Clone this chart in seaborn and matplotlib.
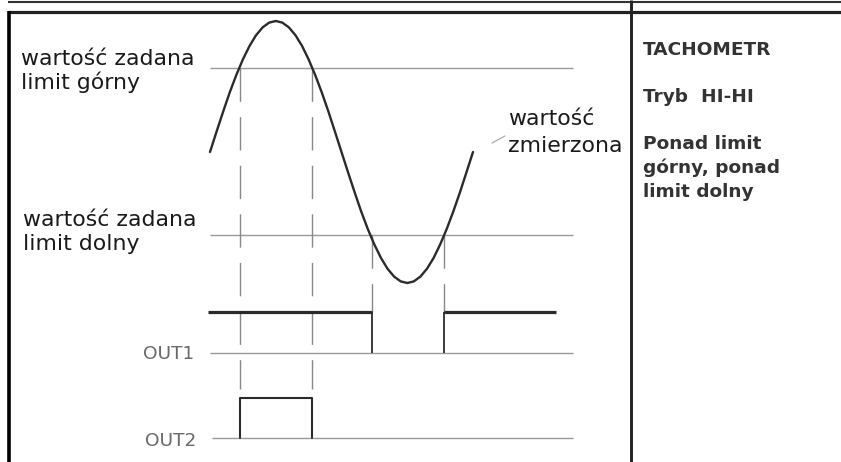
import matplotlib
matplotlib.use("Agg")
import matplotlib.pyplot as plt
import seaborn as sns

curve_x = [210, 216.6, 223.2, 229.7, 236.3, 242.9, 249.5, 256.0, 262.6, 269.2,
           275.8, 282.3, 288.9, 295.5, 302.1, 308.6, 315.2, 321.8, 328.4, 334.9,
           341.5, 348.1, 354.7, 361.2, 367.8, 374.4, 381.0, 387.5, 394.1, 400.7,
           407.3, 413.8, 420.4, 427.0, 433.6, 440.1, 446.7, 453.3, 459.9, 466.4, 473]
curve_y = [152, 131.5, 111.5, 92.5, 75, 59.4, 46, 35.3, 27.4, 22.6,
           21, 22.6, 27.4, 35.3, 46, 59.4, 75, 92.5, 111.5, 131.5,
           152, 172.5, 192.5, 211.5, 229, 244.6, 258, 268.7, 276.6, 281.4,
           283, 281.4, 276.6, 268.7, 258, 244.6, 229, 211.5, 192.5, 172.5, 152]

# set points
limit_hi = 68
limit_lo = 235
limit_span = [210, 573]

# switching instants
cross_hi = [240, 312]
cross_lo = [372, 444]

# outputs: baseline / active level
out1_base, out1_high = 353, 312
out2_base, out2_high = 438, 398
out1_span = [208, 556]
out2_span = [212, 573]

sns.set_style("white")
plt.rcParams['font.family'] = ['DejaVu Sans']
plt.rcParams['lines.scale_dashes'] = False

fig = plt.figure(figsize=(8.41, 4.62), dpi=100)
ax = fig.add_axes([0, 0, 1, 1])
ax.set_xlim(0, 841)
ax.set_ylim(462, 0)
ax.axis('off')

# frame
ax.plot([8, 841], [2, 2], color='#333333', lw=1.5, solid_capstyle='butt')
ax.plot([8, 841], [12, 12], color='#222222', lw=2.3, solid_capstyle='butt')
ax.plot([9, 9], [11, 462], color='black', lw=2.6, solid_capstyle='butt')
ax.plot([631, 631], [0, 462], color='#222222', lw=2.1, solid_capstyle='butt')

# limit lines and output baselines
grey = '#999999'
ax.hlines([limit_hi, limit_lo], *limit_span, color=grey, lw=1.0)
ax.hlines(out1_base, 210, limit_span[1], color=grey, lw=1.0)
ax.hlines(out2_base, out2_span[0], out2_span[1], color=grey, lw=1.0)

# dashed projections
dash = (0, (24, 11))
ax.vlines(cross_hi, limit_hi, out2_high - 9, color='#888888', lw=1.0, linestyle=dash)
ax.vlines(cross_lo, limit_lo, out1_high, color='#888888', lw=1.0, linestyle=dash)

# measured value
sns.lineplot(x=curve_x, y=curve_y, sort=False, estimator=None, color='#2b2b2b', lw=1.7, ax=ax)

# OUT1: on outside the lower crossings (low part lies on the baseline)
ax.vlines(cross_lo, out1_high, out1_base, color='#2b2b2b', lw=1.3)
ax.hlines(out1_high, out1_span[0], cross_lo[0], color='#2b2b2b', lw=2.3)
ax.hlines(out1_high, cross_lo[1], out1_span[1], color='#2b2b2b', lw=2.3)

# OUT2: on between the upper crossings
s2x = [cross_hi[0], cross_hi[0], cross_hi[1], cross_hi[1]]
s2y = [out2_base, out2_high, out2_high, out2_base]
sns.lineplot(x=s2x, y=s2y, sort=False, estimator=None, color='#2b2b2b', lw=1.5, ax=ax)

# labels
lab = dict(fontsize=15.8, color='#1a1a1a', va='baseline', ha='left')
ax.text(21, 65, 'wartość zadana', **lab)
ax.text(21, 89, 'limit górny', **lab)
ax.text(23, 226, 'wartość zadana', **lab)
ax.text(23, 250, 'limit dolny', **lab)
ax.text(508, 125, 'wartość', **lab)
ax.text(508, 152, 'zmierzona', **lab)
ax.plot([492, 505], [143, 136], color='#aaaaaa', lw=0.9)

out = dict(fontsize=13.3, color='#6a6a6a', va='baseline', ha='left')
ax.text(143, 359, 'OUT1', **out)
ax.text(145, 446, 'OUT2', **out)

side = dict(fontsize=13.3, color='#333333', va='baseline', ha='left', fontweight='bold')
ax.text(643, 55, 'TACHOMETR', **side)
ax.text(643, 102, 'Tryb  HI-HI', **side)
ax.text(643, 149, 'Ponad limit', **side)
ax.text(643, 173, 'górny, ponad', **side)
ax.text(643, 197, 'limit dolny', **side)

fig.savefig('out.png', dpi=100, facecolor='white')
